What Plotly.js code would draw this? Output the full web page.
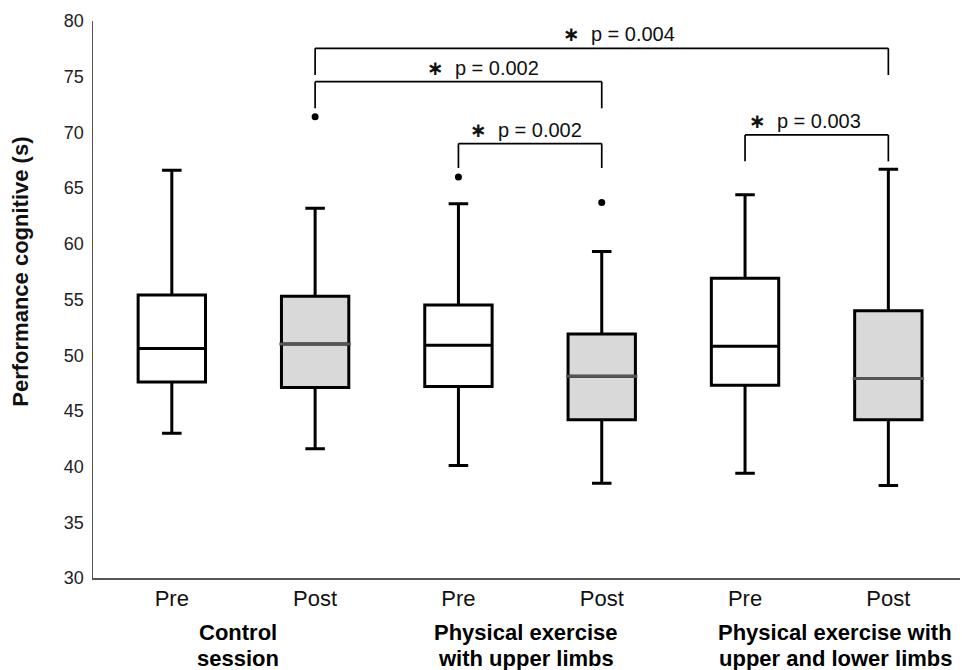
<!DOCTYPE html>
<html>
<head>
<meta charset="utf-8">
<script src="https://cdn.plot.ly/plotly-3.0.1.min.js"></script>
<style>html,body{margin:0;padding:0;background:#fff;}#chart{width:962px;height:670px;}</style>
</head>
<body>
<div id="chart"></div>
<script>
// ---- data ----
const tickLabels = ["Pre", "Post", "Pre", "Post", "Pre", "Post"];
const positions = [0, 1, 2, 3, 4, 5];

const preX = [0, 2, 4];
const preLower = [43.0, 40.1, 39.4];
const preQ1 = [47.6, 47.2, 47.3];
const preMedian = [50.6, 50.9, 50.8];
const preQ3 = [55.4, 54.5, 56.9];
const preUpper = [66.6, 63.6, 64.4];

const postX = [1, 3, 5];
const postLower = [41.6, 38.5, 38.3];
const postQ1 = [47.1, 44.2, 44.2];
const postMedian = [51.0, 48.1, 47.9];
const postQ3 = [55.3, 51.9, 54.0];
const postUpper = [63.2, 59.3, 66.7];

const outlierX = [1, 2, 3];
const outlierY = [71.4, 66.0, 63.7];

const groupX = [0.46, 2.47, 4.63];
const groupLine1 = ["Control", "Physical exercise", "Physical exercise with"];
const groupLine2 = ["session", "with upper limbs", "upper and lower limbs"];

const yTitle = "Performance cognitive (s)";

const bracketFrom = [1, 1, 2, 4];
const bracketTo = [5, 3, 3, 5];
const bracketTop = [77.55, 74.55, 69.0, 69.77];
const bracketBottom = [75.15, 72.16, 66.8, 67.4];
const bracketLabelX = [3.12, 2.17, 2.47, 4.42];
const bracketLabels = ["p = 0.004", "p = 0.002", "p = 0.002", "p = 0.003"];

// ---- styling ----
const FONT = "Liberation Sans, Arial, sans-serif";
const boxLine = {color: "#000", width: 3};

const traces = [
  {
    type: "box", name: "Pre", x: preX,
    lowerfence: preLower, q1: preQ1, median: preMedian, q3: preQ3, upperfence: preUpper,
    fillcolor: "#ffffff", line: boxLine, width: 0.47, whiskerwidth: 0.29,
    boxpoints: false, showlegend: false, hoverinfo: "skip"
  },
  {
    type: "box", name: "Post", x: postX,
    lowerfence: postLower, q1: postQ1, median: postMedian, q3: postQ3, upperfence: postUpper,
    fillcolor: "#d9d9d9", line: boxLine, width: 0.47, whiskerwidth: 0.29,
    boxpoints: false, showlegend: false, hoverinfo: "skip"
  },
  {
    type: "scatter", mode: "markers", x: postX, y: postMedian,
    marker: {symbol: "line-ew", size: 51, color: "#555", line: {color: "#555", width: 3}},
    showlegend: false, hoverinfo: "skip"
  },
  {
    type: "scatter", mode: "markers", x: outlierX, y: outlierY,
    marker: {symbol: "circle", size: 7, color: "#000"},
    showlegend: false, hoverinfo: "skip"
  }
];

const shapes = [];
const annotations = [];
for (let i = 0; i < bracketFrom.length; i++) {
  const lineStyle = {color: "#000", width: 1.7};
  shapes.push({type: "line", xref: "x", yref: "y", x0: bracketFrom[i], x1: bracketTo[i], y0: bracketTop[i], y1: bracketTop[i], line: lineStyle});
  shapes.push({type: "line", xref: "x", yref: "y", x0: bracketFrom[i], x1: bracketFrom[i], y0: bracketTop[i], y1: bracketBottom[i], line: lineStyle});
  shapes.push({type: "line", xref: "x", yref: "y", x0: bracketTo[i], x1: bracketTo[i], y0: bracketTop[i], y1: bracketBottom[i], line: lineStyle});
  annotations.push({
    xref: "x", yref: "y", x: bracketLabelX[i], y: bracketTop[i],
    xanchor: "center", yanchor: "bottom", yshift: 0, showarrow: false,
    text: "<span style='font-family:DejaVu Sans;font-weight:bold'>∗</span>  " + bracketLabels[i],
    font: {family: FONT, size: 20, color: "#111"}
  });
}
for (let i = 0; i < groupX.length; i++) {
  annotations.push({
    xref: "x", yref: "paper", x: groupX[i], y: -0.071,
    xanchor: "center", yanchor: "top", showarrow: false,
    text: "<b>" + groupLine1[i] + "</b>",
    font: {family: FONT, size: 22, color: "#000"}
  });
  annotations.push({
    xref: "x", yref: "paper", x: groupX[i], y: -0.118,
    xanchor: "center", yanchor: "top", showarrow: false,
    text: "<b>" + groupLine2[i] + "</b>",
    font: {family: FONT, size: 22, color: "#000"}
  });
}
annotations.push({
  xref: "paper", yref: "paper", x: -0.083, y: 0.55,
  xanchor: "center", yanchor: "middle", textangle: -90, showarrow: false,
  text: "<b>" + yTitle + "</b>",
  font: {family: FONT, size: 22, color: "#111"}
});

const layout = {
  width: 962, height: 670,
  margin: {l: 93, r: 2, t: 21, b: 92},
  paper_bgcolor: "#fff", plot_bgcolor: "#fff",
  showlegend: false, hovermode: false,
  font: {family: FONT, color: "#111"},
  xaxis: {
    range: [-0.55, 5.5], tickvals: positions, ticktext: tickLabels,
    tickfont: {family: FONT, size: 22, color: "#111"},
    showline: true, linecolor: "#555", linewidth: 2,
    showgrid: false, zeroline: false, ticks: "", fixedrange: true
  },
  yaxis: {
    range: [30, 80], dtick: 5, tick0: 30,
    tickfont: {family: FONT, size: 18, color: "#222"},
    showline: true, linecolor: "#555", linewidth: 1.5,
    showgrid: false, zeroline: false, ticks: "", ticklabelstandoff: 4, fixedrange: true
  },
  shapes: shapes,
  annotations: annotations
};

Plotly.newPlot("chart", traces, layout, {staticPlot: true, displayModeBar: false});
</script>
</body>
</html>
